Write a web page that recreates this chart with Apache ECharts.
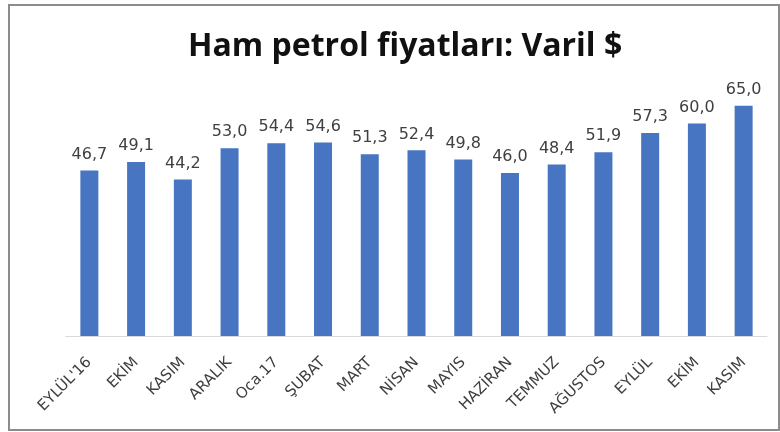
<!DOCTYPE html>
<html>
<head>
<meta charset="utf-8">
<script src="https://cdn.jsdelivr.net/npm/echarts@6/dist/echarts.min.js"></script>
<style>
  html, body { margin: 0; padding: 0; background: #fff; }
  #chart { width: 780px; height: 432px; }
</style>
</head>
<body>
<div id="chart"></div>
<script>
// aylar ve varil fiyatları
var months = ["EYLÜL'16", 'EKİM', 'KASIM', 'ARALIK', 'Oca.17', 'ŞUBAT', 'MART', 'NİSAN',
    'MAYIS', 'HAZİRAN', 'TEMMUZ', 'AĞUSTOS', 'EYLÜL', 'EKİM ', 'KASIM '];
var prices = [46.7, 49.1, 44.2, 53.0, 54.4, 54.6, 51.3, 52.4, 49.8, 46.0, 48.4, 51.9, 57.3, 60.0, 65.0];

var chart = echarts.init(document.getElementById('chart'));
chart.setOption({
    animation: false,
    title: {
        text: 'Ham petrol fiyatları: Varil $',
        left: 183,
        top: 26,
        textStyle: {
            fontFamily: 'Open Sans',
            fontWeight: 'bold',
            fontSize: 32,
            color: '#111111'
        }
    },
    graphic: [{
        type: 'rect',
        shape: { x: 9, y: 5, width: 770, height: 425 },
        style: { fill: 'none', stroke: '#8c8c8c', lineWidth: 2 },
        silent: true
    }],
    grid: { left: 66, right: 13, top: 88, bottom: 96 },
    xAxis: {
        type: 'category',
        data: months,
        axisLine: { lineStyle: { color: '#d9d9d9', width: 1 } },
        axisTick: { show: false },
        axisLabel: {
            rotate: 45,
            interval: 0,
            margin: 24,
            fontFamily: 'DejaVu Sans',
            fontSize: 15,
            color: '#404040',
            formatter: function (v) { return v.trim(); }
        }
    },
    yAxis: {
        type: 'value',
        min: 0,
        max: 70,
        show: false,
        splitLine: { show: false }
    },
    series: [{
        type: 'bar',
        data: prices,
        barWidth: 18,
        itemStyle: { color: '#4775c2' },
        label: {
            show: true,
            position: 'top',
            distance: 8,
            fontFamily: 'DejaVu Sans',
            fontSize: 16,
            color: '#404040',
            formatter: function (p) { return p.value.toFixed(1).replace('.', ','); }
        }
    }]
});
</script>
</body>
</html>
